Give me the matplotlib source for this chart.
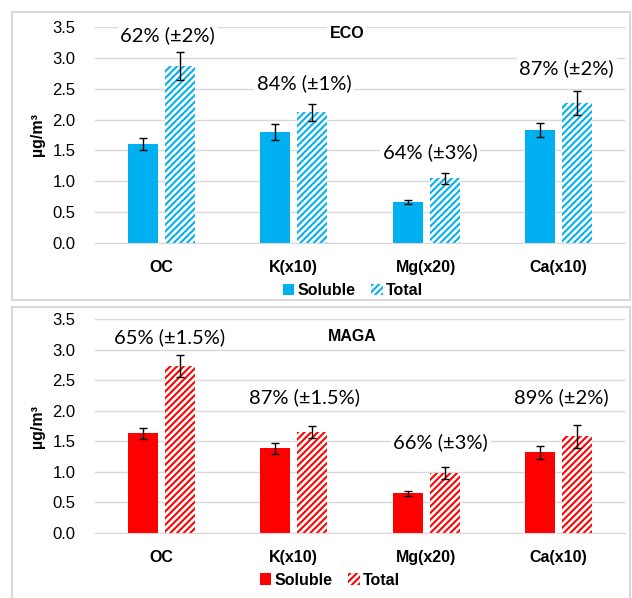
import numpy as np
import matplotlib
matplotlib.use("Agg")
import matplotlib.pyplot as plt
from matplotlib.patches import Rectangle, Patch

# --- Daten ---
kategorien = ["OC", "K(x10)", "Mg(x20)", "Ca(x10)"]

eco_loeslich = [1.60, 1.80, 0.66, 1.83]
eco_loeslich_err = [0.10, 0.13, 0.03, 0.11]
eco_gesamt = [2.87, 2.12, 1.05, 2.27]
eco_gesamt_err = [0.23, 0.14, 0.09, 0.19]
eco_anteil = ["62% (±2%)", "84% (±1%)", "64% (±3%)", "87% (±2%)"]

maga_loeslich = [1.63, 1.39, 0.65, 1.32]
maga_loeslich_err = [0.09, 0.09, 0.04, 0.11]
maga_gesamt = [2.73, 1.65, 0.98, 1.58]
maga_gesamt_err = [0.18, 0.10, 0.10, 0.19]
maga_anteil = ["65% (±1.5%)", "87% (±1.5%)", "66% (±3%)", "89% (±2%)"]

# Position der Prozent-Beschriftungen (Datenkoordinaten)
eco_label_pos = [(0.05, 3.37), (1.08, 2.59), (2.03, 1.47), (3.06, 2.84)]
maga_label_pos = [(0.06, 3.20), (1.08, 2.22), (2.11, 1.49), (3.02, 2.22)]

W, H = 632, 598
plt.rcParams['hatch.linewidth'] = 1.9

fig = plt.figure(figsize=(W / 100, H / 100), dpi=100)

# Rahmen der beiden Panels
for (x0, y0, x1, y1) in [(12, 12, 630, 300), (12, 307, 630, 600)]:
    fig.patches.append(Rectangle((x0 / W, 1 - y1 / H), (x1 - x0) / W, (y1 - y0) / H,
                                 transform=fig.transFigure, fill=False,
                                 edgecolor="#d9d9d9", linewidth=1.5))

def panel(ax, sol, sol_err, tot, tot_err, farbe, texte, pos, titel, titel_pos, leg_x):
    x = np.arange(len(kategorien))
    bw = 0.225
    ax.bar(x - 0.14, sol, bw, color=farbe, zorder=2)
    ax.bar(x + 0.14, tot, bw, color=farbe, edgecolor="white", hatch="/////",
           linewidth=0, zorder=2)
    ax.errorbar(x - 0.14, sol, yerr=sol_err, fmt="none", ecolor="black",
                elinewidth=1, capsize=3, zorder=3)
    ax.errorbar(x + 0.14, tot, yerr=tot_err, fmt="none", ecolor="black",
                elinewidth=1, capsize=3, zorder=3)

    ax.set_xlim(-0.5, 3.5)
    ax.set_ylim(0, 3.5)
    ax.set_yticks(np.arange(0, 3.51, 0.5))
    ax.set_yticklabels([f"{v:.1f}" for v in np.arange(0, 3.51, 0.5)],
                       fontsize=12, family="Liberation Sans")
    ax.set_xticks(x)
    ax.set_xticklabels(kategorien, fontsize=11.5, fontweight="bold",
                       family="Liberation Sans")
    ax.tick_params(length=0)
    ax.tick_params(axis="x", pad=12)
    ax.tick_params(axis="y", pad=14)
    for s in ["top", "right", "left"]:
        ax.spines[s].set_visible(False)
    ax.spines["bottom"].set_color("#d9d9d9")
    ax.grid(axis="y", color="#d9d9d9", linewidth=1, zorder=0)
    ax.set_axisbelow(True)
    ax.set_ylabel("µg/m³", fontsize=11.5, fontweight="bold",
                  family="Liberation Sans", labelpad=5)

    for t, (px, py) in zip(texte, pos):
        ax.text(px, py, t, ha="center", va="center", fontsize=14.5, family="Lato",
                bbox=dict(facecolor="white", edgecolor="none", pad=2), zorder=4)
    ax.text(titel_pos[0], titel_pos[1], titel, ha="center", va="center",
            fontsize=11.5, fontweight="bold", family="Liberation Sans",
            bbox=dict(facecolor="white", edgecolor="none", pad=2), zorder=4)

    handles = [Patch(facecolor=farbe, label="Soluble"),
               Patch(facecolor=farbe, edgecolor="white", hatch="/////",
                     linewidth=0, label="Total")]
    ax.legend(handles=handles, loc="center", bbox_to_anchor=(leg_x, -0.22),
              ncol=2, frameon=False, handlelength=0.7, handleheight=0.7,
              columnspacing=1.0, handletextpad=0.2,
              prop=dict(family="Liberation Sans", weight="bold", size=11.5))

ax1 = fig.add_axes([95 / W, 1 - 243 / H, 530 / W, 216 / H])
ax2 = fig.add_axes([95 / W, 1 - 533 / H, 530 / W, 214 / H])

panel(ax1, eco_loeslich, eco_loeslich_err, eco_gesamt, eco_gesamt_err,
      "#00B0F0", eco_anteil, eco_label_pos, "ECO", (1.40, 3.40), (353 - 95) / 530)
panel(ax2, maga_loeslich, maga_loeslich_err, maga_gesamt, maga_gesamt_err,
      "#FF0000", maga_anteil, maga_label_pos, "MAGA", (1.44, 3.22), (330 - 95) / 530)

plt.savefig("out.png", dpi=100)
